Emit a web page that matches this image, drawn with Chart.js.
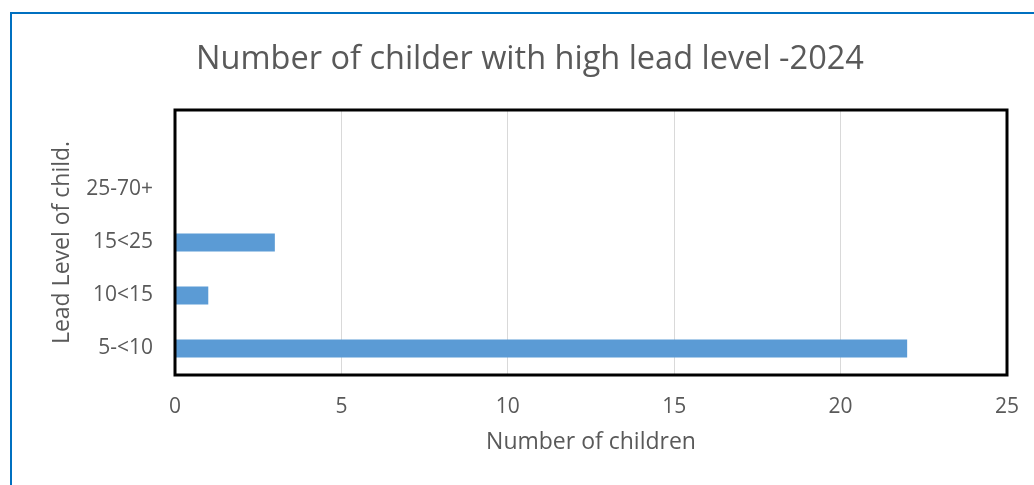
<!DOCTYPE html>
<html>
<head>
<meta charset="utf-8">
<script src="https://cdn.jsdelivr.net/npm/chart.js@4/dist/chart.umd.min.js"></script>
<style>
  html, body { margin: 0; padding: 0; background: #fff; }
  #frame {
    position: absolute; left: 10px; top: 12px; width: 1100px; height: 600px;
    border: 2px solid #0070c0; box-sizing: border-box;
  }
  #chartBar { position: absolute; left: 0; top: 0; }
</style>
</head>
<body>
<div id="frame"></div>
<canvas id="chartBar" width="1034" height="485"></canvas>
<script>
// bottom to top, as in the picture (top slot has no label)
const levels = ["5-<10", "10<15", "15<25", "25-70+", ""];
const children = [22, 1, 3, 0, null];
const xTicks = [0, 5, 10, 15, 20, 25];

const grey = "#595959";

// black box round the plot area
const plotBorder = {
  id: "plotBorder",
  afterDraw(chart) {
    const { ctx, chartArea: a } = chart;
    ctx.save();
    ctx.strokeStyle = "#000";
    ctx.lineWidth = 3;
    ctx.strokeRect(a.left, a.top, a.right - a.left, a.bottom - a.top);
    ctx.restore();
  }
};

const data = {
  labels: levels,
  datasets: [
    {
      label: "Number of children",
      backgroundColor: "#5b9bd5",
      borderWidth: 0,
      data: children,
      barPercentage: 0.34,
      categoryPercentage: 1
    }
  ]
};

const config = {
  type: "bar",
  data,
  plugins: [plotBorder],
  options: {
    indexAxis: "y",
    responsive: false,
    animation: false,
    layout: { padding: { left: 53, right: 27, top: 0, bottom: 0 } },
    plugins: {
      legend: { display: false },
      tooltip: { enabled: false },
      title: {
        display: true,
        text: "Number of childer with high lead level -2024",
        color: grey,
        font: { family: "Open Sans", size: 32.5, weight: "normal", lineHeight: 1.2 },
        padding: { top: 40, bottom: 31 }
      }
    },
    scales: {
      x: {
        min: 0,
        max: 25,
        afterBuildTicks(scale) { scale.ticks = xTicks.map(v => ({ value: v })); },
        afterFit(scale) {
          scale.height = 110;
          scale.paddingLeft = 0;
          scale.paddingRight = 0;
        },
        grid: { color: "#d9d9d9", drawTicks: false },
        border: { display: false },
        ticks: { color: grey, padding: 19, font: { family: "Open Sans", size: 21 } },
        title: {
          display: true,
          text: "Number of children",
          color: grey,
          font: { family: "Open Sans", size: 23, lineHeight: 1.2 },
          padding: { top: 0, bottom: 29 }
        }
      },
      y: {
        reverse: true,
        afterFit(scale) { scale.width = 122; },
        grid: { display: false, drawTicks: false },
        border: { display: false },
        ticks: { color: grey, padding: 22, font: { family: "Open Sans", size: 21 } },
        title: {
          display: true,
          text: "Lead Level of child.",
          color: grey,
          font: { family: "Open Sans", size: 23, lineHeight: 1.2 },
          padding: { top: -4, bottom: 0 }
        }
      }
    }
  }
};

new Chart(document.getElementById("chartBar"), config);
</script>
</body>
</html>
